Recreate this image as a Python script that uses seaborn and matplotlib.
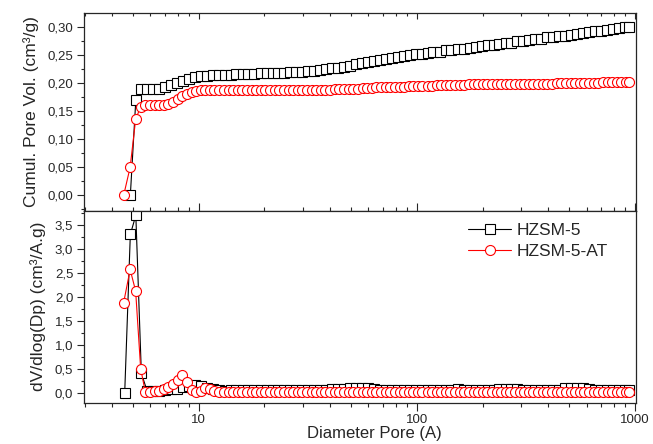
import matplotlib
matplotlib.use("Agg")
import matplotlib.pyplot as plt
import seaborn as sns
from matplotlib.ticker import FuncFormatter, LogLocator, NullFormatter, MultipleLocator

sns.set_style("ticks")
plt.rcParams['font.family'] = ['Liberation Sans', 'DejaVu Sans']

# HZSM-5 pore diameters (A); the cumulative curve starts at the 2nd point
black_x = [4.58, 4.86, 5.15, 5.46, 5.81, 6.19, 6.59, 7.02, 7.48, 7.96,
           8.48, 9.03, 9.62, 10.2, 10.9, 11.6, 12.4, 13.2, 14.0, 14.9,
           15.9, 16.9, 18.0, 19.2, 20.5, 21.8, 23.2, 24.7, 26.3, 28.0,
           29.9, 31.8, 33.9, 36.1, 38.4, 40.9, 43.6, 46.4, 49.4, 52.6,
           56.1, 59.7, 63.6, 67.7, 72.1, 76.8, 81.8, 87.1, 92.8, 98.8,
           105, 112, 119, 127, 136, 144, 154, 164, 175, 186,
           198, 211, 225, 239, 255, 271, 289, 308, 328, 349,
           372, 396, 422, 449, 478, 510, 543, 578, 615, 655,
           698, 743, 792, 843, 898, 940]

black_cumul = [0.000, 0.170, 0.190, 0.190, 0.190, 0.190, 0.192, 0.196, 0.200,
               0.204, 0.207, 0.210, 0.212, 0.213, 0.214, 0.215, 0.215, 0.215, 0.216,
               0.216, 0.216, 0.216, 0.217, 0.217, 0.217, 0.218, 0.218, 0.219, 0.219,
               0.220, 0.221, 0.222, 0.223, 0.224, 0.226, 0.227, 0.229, 0.231, 0.233,
               0.235, 0.237, 0.239, 0.241, 0.243, 0.245, 0.247, 0.248, 0.250, 0.251,
               0.252, 0.254, 0.255, 0.256, 0.258, 0.259, 0.260, 0.261, 0.263, 0.264,
               0.265, 0.267, 0.268, 0.270, 0.271, 0.272, 0.274, 0.275, 0.276, 0.278,
               0.279, 0.281, 0.282, 0.283, 0.284, 0.286, 0.287, 0.289, 0.290, 0.292,
               0.293, 0.295, 0.296, 0.298, 0.299, 0.300]

black_deriv = [0.00, 3.30, 3.70, 0.40, 0.03, 0.03, 0.04, 0.05, 0.07, 0.08,
               0.11, 0.13, 0.15, 0.13, 0.10, 0.07, 0.05, 0.04, 0.045, 0.05,
               0.05, 0.05, 0.05, 0.05, 0.05, 0.05, 0.05, 0.05, 0.05, 0.05,
               0.045, 0.05, 0.065, 0.065, 0.065, 0.07, 0.07, 0.08, 0.10, 0.10,
               0.10, 0.09, 0.07, 0.065, 0.065, 0.065, 0.065, 0.065, 0.065, 0.065,
               0.065, 0.065, 0.065, 0.065, 0.06, 0.065, 0.07, 0.065, 0.06, 0.045,
               0.045, 0.05, 0.05, 0.07, 0.075, 0.075, 0.07, 0.06, 0.05, 0.05,
               0.05, 0.05, 0.05, 0.06, 0.09, 0.10, 0.10, 0.09, 0.07, 0.065,
               0.065, 0.065, 0.065, 0.065, 0.065, 0.06]

# HZSM-5-AT
red_x = [4.53, 4.85, 5.14, 5.42, 5.69, 5.98, 6.28, 6.59, 6.92, 7.26,
         7.63, 8.01, 8.41, 8.83, 9.27, 9.73, 10.2, 10.7, 11.3, 11.8,
         12.4, 13.0, 13.7, 14.4, 15.1, 15.8, 16.6, 17.5, 18.3, 19.3,
         20.2, 21.2, 22.3, 23.4, 24.6, 25.8, 27.1, 28.5, 29.9, 31.4,
         32.9, 34.6, 36.3, 38.1, 40.0, 42.0, 44.1, 46.3, 48.7, 51.1,
         53.7, 56.4, 59.2, 62.1, 65.2, 68.5, 71.9, 75.5, 79.3, 83.3,
         87.4, 91.8, 96.4, 101, 106, 112, 117, 123, 129, 136,
         142, 150, 157, 165, 173, 182, 191, 200, 210, 221,
         232, 243, 256, 268, 282, 296, 311, 326, 342, 360,
         378, 396, 416, 437, 459, 482, 506, 531, 558, 586,
         615, 646, 678, 712, 748, 785, 824, 866, 909, 940]

red_cumul = [0.000, 0.050, 0.135, 0.158, 0.160, 0.160, 0.160, 0.160, 0.161, 0.163,
             0.166, 0.171, 0.176, 0.181, 0.184, 0.186, 0.187, 0.188, 0.188, 0.188,
             0.188, 0.188, 0.188, 0.188, 0.188, 0.188, 0.188, 0.188, 0.188, 0.188,
             0.188, 0.188, 0.188, 0.188, 0.188, 0.188, 0.188, 0.188, 0.188, 0.188,
             0.188, 0.188, 0.188, 0.188, 0.188, 0.189, 0.189, 0.189, 0.190, 0.190,
             0.190, 0.191, 0.191, 0.191, 0.192, 0.192, 0.192, 0.193, 0.193, 0.193,
             0.193, 0.194, 0.194, 0.194, 0.195, 0.195, 0.195, 0.196, 0.196, 0.196,
             0.197, 0.197, 0.197, 0.197, 0.198, 0.198, 0.198, 0.198, 0.198, 0.198,
             0.199, 0.199, 0.199, 0.199, 0.199, 0.199, 0.199, 0.199, 0.199, 0.199,
             0.199, 0.199, 0.199, 0.200, 0.200, 0.200, 0.200, 0.200, 0.200, 0.200,
             0.200, 0.200, 0.200, 0.201, 0.201, 0.201, 0.201, 0.201, 0.201, 0.201]

red_deriv = [1.88, 2.57, 2.12, 0.50, 0.02, 0.02, 0.03, 0.04, 0.07, 0.11,
             0.17, 0.26, 0.37, 0.22, 0.05, 0.01, 0.04, 0.09, 0.07, 0.04,
             0.02, 0.02, 0.02, 0.015, 0.02, 0.02, 0.02, 0.02, 0.015, 0.02,
             0.02, 0.02, 0.02, 0.02, 0.015, 0.02, 0.02, 0.02, 0.02, 0.02,
             0.015, 0.02, 0.02, 0.02, 0.02, 0.02, 0.015, 0.02, 0.02, 0.02,
             0.02, 0.02, 0.015, 0.02, 0.02, 0.02, 0.02, 0.02, 0.02, 0.015,
             0.02, 0.02, 0.02, 0.02, 0.02, 0.015, 0.02, 0.02, 0.02, 0.02,
             0.02, 0.015, 0.02, 0.02, 0.02, 0.02, 0.02, 0.015, 0.02, 0.02,
             0.02, 0.02, 0.02, 0.015, 0.02, 0.02, 0.02, 0.02, 0.02, 0.015,
             0.02, 0.02, 0.02, 0.02, 0.015, 0.02, 0.02, 0.02, 0.02, 0.02,
             0.015, 0.02, 0.02, 0.02, 0.02, 0.02, 0.015, 0.02, 0.02, 0.015]

sq_style = dict(color='black', marker='s', markersize=6.5, markerfacecolor='white',
                markeredgecolor='black', markeredgewidth=0.8, linewidth=0.8)
ci_style = dict(color='red', marker='o', markersize=7.2, markerfacecolor='white',
                markeredgecolor='red', markeredgewidth=0.8, linewidth=0.8)

fig = plt.figure(figsize=(6.53, 4.44), dpi=100)
ax_top = fig.add_axes([0.1291, 0.5259, 0.8449, 0.4441])
ax_bot = fig.add_axes([0.1291, 0.0930, 0.8449, 0.4329])

sns.lineplot(x=black_x[1:], y=black_cumul, ax=ax_top, estimator=None, **sq_style)
sns.lineplot(x=red_x, y=red_cumul, ax=ax_top, estimator=None, **ci_style)
sns.lineplot(x=black_x, y=black_deriv, ax=ax_bot, estimator=None, label='HZSM-5', **sq_style)
sns.lineplot(x=red_x, y=red_deriv, ax=ax_bot, estimator=None, label='HZSM-5-AT', **ci_style)

for ax in (ax_top, ax_bot):
    ax.set_xscale('log')
    ax.set_xlim(2.99, 1010)
    ax.xaxis.set_major_locator(LogLocator(base=10))
    ax.xaxis.set_minor_locator(LogLocator(base=10, subs=range(2, 10)))
    ax.xaxis.set_major_formatter(FuncFormatter(lambda v, p: f"{v:g}"))
    ax.xaxis.set_minor_formatter(NullFormatter())
    ax.tick_params(axis='y', which='both', left=True, right=False, direction='out',
                   width=0.8, labelsize=9.5, pad=3)
    ax.tick_params(axis='y', which='major', length=5)
    ax.tick_params(axis='y', which='minor', length=2.5)
    for s in ax.spines.values():
        s.set_linewidth(0.9)

ax_top.set_ylim(-0.027, 0.324)
ax_top.yaxis.set_major_locator(MultipleLocator(0.05))
ax_top.yaxis.set_minor_locator(MultipleLocator(0.025))
ax_top.yaxis.set_major_formatter(FuncFormatter(lambda v, p: f"{v:.2f}".replace('.', ',')))
ax_top.tick_params(axis='x', which='both', top=True, bottom=False, direction='in',
                   labelbottom=False, width=0.8)
ax_top.tick_params(axis='x', which='major', length=4)
ax_top.tick_params(axis='x', which='minor', length=2.2)
ax_top.set_ylabel('Cumul. Pore Vol. (cm³/g)', fontsize=12.5, labelpad=6)
ax_top.set_xlabel('')

ax_bot.set_ylim(-0.21, 3.80)
ax_bot.yaxis.set_major_locator(MultipleLocator(0.5))
ax_bot.yaxis.set_minor_locator(MultipleLocator(0.25))
ax_bot.yaxis.set_major_formatter(FuncFormatter(lambda v, p: f"{v:.1f}".replace('.', ',')))
ax_bot.tick_params(axis='x', which='both', top=True, bottom=True, direction='out',
                   width=0.8, labelsize=9.5, pad=2)
ax_bot.tick_params(axis='x', which='major', length=6)
ax_bot.tick_params(axis='x', which='minor', length=3)
ax_bot.set_ylabel('dV/dlog(Dp) (cm³/A.g)', fontsize=12.5, labelpad=6)
ax_bot.set_xlabel('Diameter Pore (A)', fontsize=12, labelpad=0)
ax_bot.xaxis.label.set_x(0.525)

ax_bot.legend(loc='upper left', bbox_to_anchor=(0.7167, 0.497), bbox_transform=fig.transFigure,
              frameon=False, fontsize=12.5, handlelength=2.5, handletextpad=0.3,
              labelspacing=0.3, borderpad=0, borderaxespad=0)

fig.savefig('out.png', dpi=100)
